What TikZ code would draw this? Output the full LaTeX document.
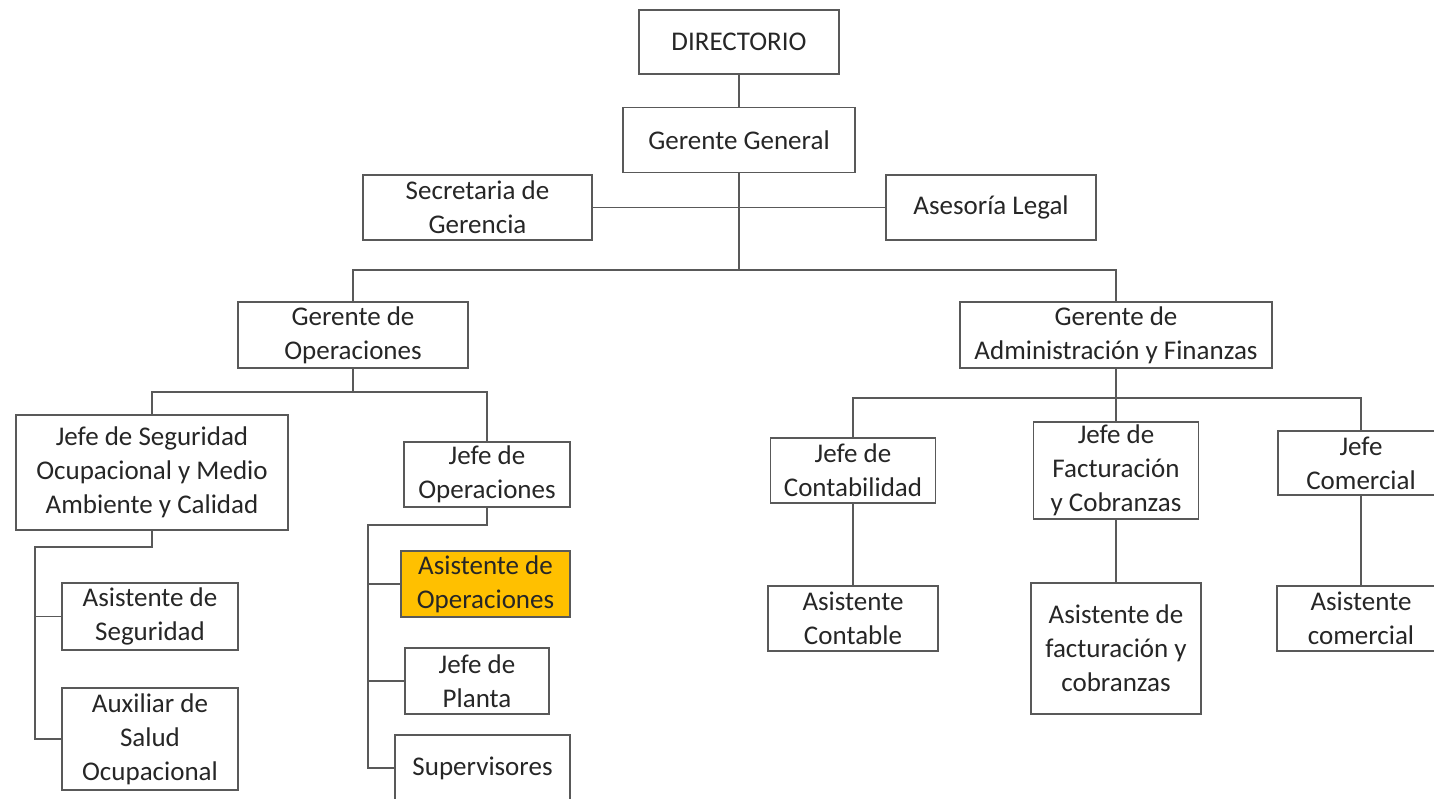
\documentclass[tikz,border=0pt]{standalone}
\usepackage{fontspec}
\setmainfont{Carlito}
\usepackage{xcolor}
\definecolor{oro}{HTML}{FFC000}

\begin{document}
\begin{tikzpicture}[x=1pt,y=-1pt,
    caja/.style={draw=black!65,line width=1.8pt,inner sep=0pt,align=center,
        text=black!85,font=\fontsize{27}{34}\selectfont},
    linea/.style={draw=black!65,line width=1.8pt}]
            \useasboundingbox (0,0) rectangle (1434,798);

            \node (dir) at (739,42) [caja,minimum width=200,minimum height=64] {DIRECTORIO};
            \node (gg) at (739,140) [caja,minimum width=232,minimum height=65] {Gerente General};
            \node (sec) at (477.5,207.5) [caja,minimum width=229,minimum height=65] {Secretaria de\\Gerencia};
            \node (ase) at (991,207.5) [caja,minimum width=210,minimum height=65] {Asesoría Legal};
            \node (gop) at (353,335) [caja,minimum width=230,minimum height=66] {Gerente de\\Operaciones};
            \node (gaf) at (1116,335) [caja,minimum width=312,minimum height=66] {Gerente de\\Administración y Finanzas};

            \node (jsma) at (152,472.5) [caja,minimum width=272,minimum height=115] {Jefe de Seguridad\\Ocupacional y Medio\\Ambiente y Calidad};
            \node (jop) at (487,474.5) [caja,minimum width=166,minimum height=65] {Jefe de\\Operaciones};
            \node (asseg) at (150,616.5) [caja,minimum width=176,minimum height=67] {Asistente de\\Seguridad};
            \node (aux) at (150,739) [caja,minimum width=176,minimum height=102] {Auxiliar de\\Salud\\Ocupacional};
            \node (asop) at (485.5,584) [caja,fill=oro,minimum width=169,minimum height=66] {Asistente de\\Operaciones};
            \node (jpl) at (477,681) [caja,minimum width=144,minimum height=66] {Jefe de\\Planta};
            \node (sup) at (482.5,768) [caja,minimum width=175,minimum height=66] {Supervisores};

            \node (jcon) at (853,470.5) [caja,minimum width=165,minimum height=65] {Jefe de\\Contabilidad};
            \node (jfac) at (1116,470.5) [caja,minimum width=165,minimum height=97] {Jefe de\\Facturación\\y Cobranzas};
            \node (jcom) at (1361,463) [caja,minimum width=166,minimum height=64] {Jefe\\Comercial};
            \node (acon) at (853,618.5) [caja,minimum width=170,minimum height=65] {Asistente\\Contable};
            \node (afac) at (1116,648.5) [caja,minimum width=170,minimum height=131] {Asistente de\\facturación y\\cobranzas};
            \node (acom) at (1361,618.5) [caja,minimum width=168,minimum height=65] {Asistente\\comercial};

            \coordinate (b1) at (739,270);
            \coordinate (b2) at (353,392);
            \coordinate (b3) at (1116,398);
            \coordinate (k1) at (35,547);
            \coordinate (k2) at (368,525);

            % tronco principal
            \draw[linea] (dir) -- (gg) (sec) -- (ase) (gg) -- (b1);
            \draw[linea] (gop.north) |- (b1) -| (gaf.north);

            % operaciones
            \draw[linea] (gop) -- (b2) (jsma.north) |- (b2) -| (jop.north);
            \draw[linea] (jsma.south) |- (k1) |- (aux.west) (asseg.west) -- (asseg.west -| k1);
            \draw[linea] (jop.south) |- (k2) |- (sup.west) (asop.west) -- (asop.west -| k2) (jpl.west) -- (jpl.west -| k2);

            % administracion y finanzas
            \draw[linea] (gaf) -- (jfac) (jcon.north) |- (b3) -| (jcom.north);
            \draw[linea] (jcon) -- (acon) (jfac) -- (afac) (jcom) -- (acom);

        \end{tikzpicture}
\end{document}
